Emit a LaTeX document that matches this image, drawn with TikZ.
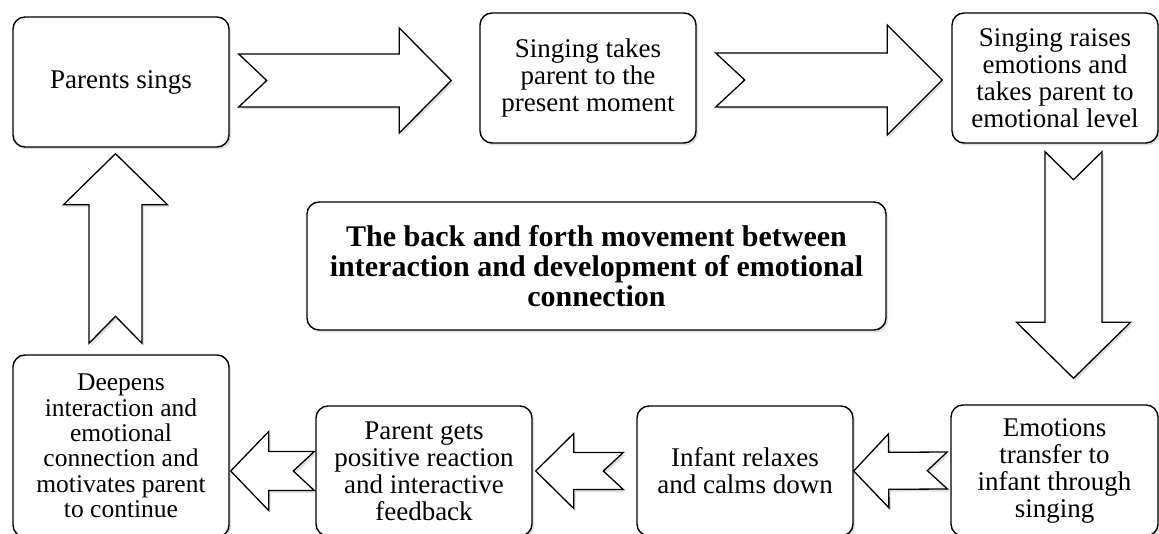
\documentclass[tikz,border=0pt]{standalone}
\usepackage{fontspec}
\setmainfont{Liberation Serif}
\usetikzlibrary{calc,shadows}
% block arrow: #1 tail, #2 tip, #3 shaft half width, #4 head half width, #5 head length, #6 notch depth
\newcommand{\blockarr}[6]{%
  \coordinate (hb) at ($(#2)!#5!(#1)$);
  \coordinate (nt) at ($(#1)!#6!(#2)$);
  \draw[barrow] ($(#1)!#3!90:(#2)$) -- ($(hb)!#3!90:(#2)$) -- ($(hb)!#4!90:(#2)$)
     -- (#2) -- ($(hb)!#4!-90:(#2)$) -- ($(hb)!#3!-90:(#2)$) -- ($(#1)!#3!-90:(#2)$)
     -- (nt) -- cycle;
}
\tikzset{
  shade box/.style={drop shadow={shadow xshift=2pt,shadow yshift=-2.5pt,opacity=.25}},
  box/.style={draw, line width=1.4pt, rounded corners=12pt, fill=white, align=center,
    inner sep=2pt, font=\fontsize{27}{27}\selectfont, shade box},
  barrow/.style={draw, line width=1.3pt, fill=white, line join=miter, shade box},
}
\begin{document}
\begin{tikzpicture}[x=1pt,y=-1pt]
\useasboundingbox (0,0) rectangle (1159,534);
% boxes
\node[box, minimum width=216pt, minimum height=130pt] (b1) at (121,82) {Parents sings};
\node[box, minimum width=216pt, minimum height=130pt] (b2) at (588,78) {Singing takes\\parent to the\\present moment};
\node[box, minimum width=206pt, minimum height=130pt] (b3) at (1055,78) {Singing raises\\emotions and\\takes parent to\\emotional level};
\node[box, minimum width=579pt, minimum height=128pt, font=\bfseries\fontsize{30}{30}\selectfont] (mid) at (596.5,266)
  {The back and forth movement between\\interaction and development of emotional\\connection};
\node[box, minimum width=207pt, minimum height=131pt] (emo) at (1054.5,470.5) {Emotions\\transfer to\\infant through\\singing};
\node[box, minimum width=216pt, minimum height=130pt] (inf) at (745,471) {Infant relaxes\\and calms down};
\node[box, minimum width=216pt, minimum height=130pt] (par) at (424,471) {Parent gets\\positive reaction\\and interactive\\feedback};
\node[box, minimum width=216pt, minimum height=182pt, font=\fontsize{25.5}{25.3}\selectfont] (dee) at (121,446)
  {Deepens\\interaction and\\emotional\\connection and\\motivates parent\\to continue};
% arrow end points
\coordinate (a1s) at ($(b1.east)+(9,-1.5)$);
\coordinate (a1e) at ($(b2.west)+(-28,2.5)$);
\coordinate (a2s) at ($(b2.east)+(19,2)$);
\coordinate (a2e) at ($(b3.west)+(-9,2)$);
\coordinate (a3s) at ($(b3.south)+(18.5,8)$);
\coordinate (a3e) at ($(emo.north)+(19,-26)$);
\coordinate (a4s) at ($(emo.west)+(-3,0)$);
\coordinate (a4e) at ($(inf.east)+(0,0)$);
\coordinate (a5s) at ($(inf.west)+(-13,0)$);
\coordinate (a5e) at ($(par.east)+(3,0)$);
\coordinate (a6s) at ($(par.west)+(-1,0)$);
\coordinate (a6e) at ($(dee.east |- par.west)+(1,0)$);
\coordinate (a7s) at ($(dee.north)+(-5.5,-11)$);
\coordinate (a7e) at ($(b1.south)+(-5.5,6)$);
% block arrows
\blockarr{a1s}{a1e}{26.5pt}{52.5pt}{52pt}{28pt}
\blockarr{a2s}{a2e}{27pt}{55pt}{55pt}{29pt}
\blockarr{a3s}{a3e}{28.5pt}{57pt}{56pt}{28pt}
\blockarr{a4s}{a4e}{18.5pt}{37pt}{35pt}{20pt}
\blockarr{a5s}{a5e}{18.5pt}{37.5pt}{38pt}{20pt}
\blockarr{a6s}{a6e}{19.5pt}{39.5pt}{38pt}{21pt}
\blockarr{a7s}{a7e}{26.5pt}{52pt}{51pt}{27pt}
\end{tikzpicture}
\end{document}
